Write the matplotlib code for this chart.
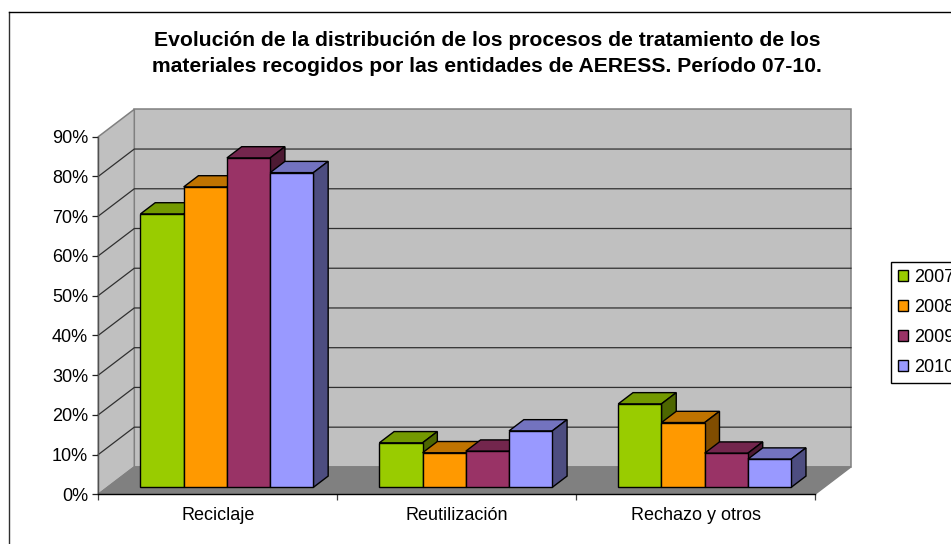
import matplotlib
matplotlib.use('Agg')
import matplotlib.pyplot as plt
from matplotlib.patches import Polygon, Patch

plt.rcParams['font.family'] = ['Liberation Sans', 'DejaVu Sans']

categories = ['Reciclaje', 'Reutilización', 'Rechazo y otros']
years = ['2007', '2008', '2009', '2010']
values_2007 = [68.8, 11.2, 21.0]
values_2008 = [75.6, 8.7, 16.3]
values_2009 = [82.9, 9.1, 8.6]
values_2010 = [79.2, 14.2, 7.1]
series = [values_2007, values_2008, values_2009, values_2010]
y_ticks = [0, 10, 20, 30, 40, 50, 60, 70, 80, 90]

front_colors = ['#99CC00', '#FF9900', '#993366', '#9999FF']
top_colors = ['#739900', '#BF7300', '#73264D', '#7373BF']
side_colors = ['#4D6600', '#804D00', '#4D1A33', '#4D4D80']

W, H = 951.0, 544.0
left, right = 98.3, 815.0
bottom, top = 494.3, 136.7

# depth of the box, in axis units
depth_x = 36.0 / (right - left) * 3
depth_y = 27.4 / (bottom - top) * 90
bar_w = 0.181
gap = 0.138
z_front = 0.255
z_back = 0.665


def proj(x, y, z):
    return (x + z * depth_x, y + z * depth_y)


def poly(ax, pts, color, edge='black', lw=1.0, z=2):
    ax.add_patch(Polygon(pts, closed=True, facecolor=color, edgecolor=edge,
                         linewidth=lw, clip_on=False, zorder=z, joinstyle='miter'))


fig = plt.figure(figsize=(W / 100, H / 100), dpi=100)
ax = fig.add_axes([left / W, 1 - bottom / H, (right - left) / W, (bottom - top) / H])
ax.set_xlim(0, 3)
ax.set_ylim(0, 90)
ax.patch.set_visible(False)

# walls and floor
poly(ax, [proj(0, 0, 1), proj(3, 0, 1), proj(3, 90, 1), proj(0, 90, 1)], '#C0C0C0', '#808080', 1.1, 1)
poly(ax, [proj(0, 0, 0), proj(0, 0, 1), proj(0, 90, 1), proj(0, 90, 0)], '#C0C0C0', '#808080', 1.1, 1)
poly(ax, [proj(0, 0, 0), proj(3, 0, 0), proj(3, 0, 1), proj(0, 0, 1)], '#808080', '#808080', 1.0, 1.1)

# gridlines on both walls
for v in y_ticks[1:-1]:
    a, b, c = proj(0, v, 0), proj(0, v, 1), proj(3, v, 1)
    ax.plot([a[0], b[0], c[0]], [a[1], b[1], c[1]], color='#303030', lw=0.9,
            clip_on=False, zorder=1.2)

# bars, left to right so that each front hides the side of the one before
for c in range(len(categories)):
    for s, vals in enumerate(series):
        v = vals[c]
        x0 = c + gap + s * bar_w
        x1 = x0 + bar_w
        # roof and side first
        poly(ax, [proj(x0, v, z_front), proj(x1, v, z_front), proj(x1, v, z_back), proj(x0, v, z_back)],
             top_colors[s], z=2 + s * 0.1)
        poly(ax, [proj(x1, 0, z_front), proj(x1, 0, z_back), proj(x1, v, z_back), proj(x1, v, z_front)],
             side_colors[s], z=2 + s * 0.1)
        poly(ax, [proj(x0, 0, z_front), proj(x1, 0, z_front), proj(x1, v, z_front), proj(x0, v, z_front)],
             front_colors[s], z=2 + s * 0.1)

for name in ['top', 'right']:
    ax.spines[name].set_visible(False)
ax.spines['left'].set_color('#505050')
ax.spines['left'].set_linewidth(1.0)
ax.spines['bottom'].set_color('black')
ax.spines['bottom'].set_linewidth(1.0)
ax.spines['left'].set_zorder(5)
ax.spines['bottom'].set_zorder(5)

ax.set_yticks(y_ticks)
ax.set_yticklabels(['%d%%' % v for v in y_ticks], fontsize=13)
ax.tick_params(axis='y', length=4.5, width=0.9, color='#202020', pad=2.9)
ax.set_xticks([0, 1, 2, 3])
ax.set_xticklabels([])
ax.tick_params(axis='x', which='major', length=4, width=0.9, color='#404040')
ax.set_xticks([0.5, 1.5, 2.5], minor=True)
ax.set_xticklabels(categories, minor=True, fontsize=13)
ax.tick_params(axis='x', which='minor', length=0, pad=9.5)

fig.text(487 / W, 1 - 40 / H,
         'Evolución de la distribución de los procesos de tratamiento de los',
         ha='center', va='center', fontsize=15.2, fontweight='bold')
fig.text(487 / W, 1 - 66 / H,
         'materiales recogidos por las entidades de AERESS. Período 07-10.',
         ha='center', va='center', fontsize=15.2, fontweight='bold')

# chart area border: only top and left are inside the crop
fig.add_artist(plt.Line2D([8.5 / W, 8.5 / W], [0, 1 - 11.5 / H], color='#303030', lw=1.0))
fig.add_artist(plt.Line2D([8.5 / W, 1], [1 - 11.5 / H, 1 - 11.5 / H], color='black', lw=1.0))

# the legend runs past the right edge, as in the reference
handles = [Patch(facecolor=front_colors[i], edgecolor='black', linewidth=1.0) for i in range(4)]
leg = fig.legend(handles, years, loc='upper left', bbox_to_anchor=(890.7 / W, 1 - 261.7 / H),
                 borderaxespad=0, fancybox=False, edgecolor='black', framealpha=1,
                 fontsize=13, handlelength=0.58, handleheight=0.58, handletextpad=0.32,
                 labelspacing=0.72, borderpad=0.4)
leg.get_frame().set_linewidth(1.0)

fig.savefig('out.png', dpi=100)
